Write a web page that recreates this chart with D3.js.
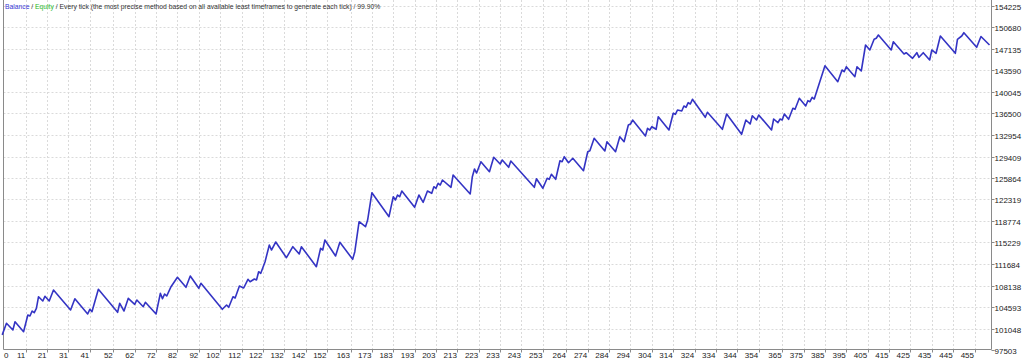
<!DOCTYPE html>
<html><head><meta charset="utf-8">
<script src="https://cdn.jsdelivr.net/npm/d3@7"></script>
<style>html,body{margin:0;padding:0;background:#fff;overflow:hidden}</style>
</head><body>
<svg id="c" width="1024" height="359"></svg>
<script>
// Trade index of each vertex of the balance curve
const trades = [0,2,5,6,10,12,13,14,15,16,17,19,20,22,24,32,34,40,41,42,45,54,55,57,59,62,63,66,67,72,74,75,76,77,79,82,86,88,92,93,
103,105,106,108,109,111,113,115,116,118,119,120,121,123,125,126,128,133,136,139,140,147,149,150,151,156,158,164,165,166,167,170,171,173,
181,183,184,185,186,187,193,195,197,199,201,202,203,204,205,206,210,211,219,220,221,222,224,228,230,233,234,237,238,
249,250,253,255,256,257,259,261,262,263,265,267,272,274,275,277,282,283,287,289,291,293,294,295,301,302,303,304,306,307,312,314,315,316,318,319,320,321,322,323,
329,330,337,339,346,348,350,351,353,354,360,361,363,364,365,366,368,370,371,373,376,377,378,379,380,385,391,393,394,395,399,400,402,404,406,408,409,410,
416,417,422,423,426,428,429,431,434,435,436,437,439,446,447,449,450,456,458,462];
// Balance at each vertex
const balance = [100000,101905,100800,102169,100520,103274,103109,103933,103653,104379,106291,105582,106357,105582,107396,104098,105961,103439,104214,103818,107511,103719,105203,103933,106027,105038,105747,104642,105368,103439,106852,105961,106737,106407,107940,109490,107841,109704,107676,108500,
104214,104923,104543,106291,106077,108055,107726,109160,108764,109210,109045,110414,110150,112062,114816,113991,115311,112722,114536,113332,114536,111238,114272,113991,115640,113002,115261,112458,113711,116184,118658,117833,118938,123440,
119482,122780,122236,123060,122780,123720,121034,123060,121857,123720,123342,124429,124166,124990,124709,125534,124330,126358,123225,126078,127348,126688,128551,126902,129277,128172,128832,127628,128667,
124330,125748,124166,125814,125649,126474,125649,128716,128551,129376,128386,129112,127067,130200,130365,132409,130316,131849,130200,132674,131849,134603,134768,135427,132789,134059,133778,134323,133894,135971,133778,136532,136367,137076,136911,137736,137521,138280,138065,138840,
135873,136697,133894,136417,133069,135427,134768,136136,135427,136252,133778,135592,134982,135592,135427,136417,135543,137356,137191,139005,137736,138610,138445,139170,138890,144381,141743,143672,143391,144216,142567,144216,143507,147794,146970,148734,148899,149443,
146970,148338,146310,146524,145601,146524,145766,146524,145321,146970,146689,146425,149278,146425,148734,149278,149822,147415,149196,147794];

const yTickLabels = [154225,150680,147135,143590,140045,136500,132954,129409,125864,122319,118774,115229,111684,108138,104593,101048,97503];
const xTickLabels = [0,11,21,31,41,52,62,72,82,92,102,112,122,132,142,152,163,173,183,193,203,213,223,233,243,253,264,274,284,294,304,314,324,334,344,354,365,375,385,395,405,415,425,435,445,455];
const legendParts = [
  {t:"Balance", c:"#3a3ad6"},
  {t:"\u00a0/\u00a0", c:"#333333"},
  {t:"Equity", c:"#2dbb2d"},
  {t:"\u00a0/ Every tick (the most precise method based on all available least timeframes to generate each tick) / 99.90%", c:"#333333"}
];

(function(){
const svg = d3.select("#c");
const pL = 3.5, pR = 991, pT = 0, pB = 349.5;
const x = d3.scaleLinear().domain([0, 462.7]).range([2.2, 991]);
const y = d3.scaleLinear().domain([97503, 154225]).range([350, 6]);
const font = "'Liberation Sans', Arial, sans-serif";

svg.append("rect").attr("width",1024).attr("height",359).attr("fill","#fff");

// horizontal grid
svg.append("g").selectAll("line").data(yTickLabels.slice(0,-1)).join("line")
  .attr("x1", pL).attr("x2", pR)
  .attr("y1", d => Math.round(y(d)) + 0.5).attr("y2", d => Math.round(y(d)) + 0.5)
  .attr("stroke", "#dadada").attr("stroke-dasharray", "2,2");
// vertical grid
svg.append("g").selectAll("line").data(xTickLabels.slice(1)).join("line")
  .attr("x1", d => Math.round(x(d)) + 0.5).attr("x2", d => Math.round(x(d)) + 0.5)
  .attr("y1", pT).attr("y2", pB)
  .attr("stroke", "#dadada").attr("stroke-dasharray", "2,2");

// borders
const bc = "#8a8a8a";
svg.append("line").attr("x1",pL).attr("x2",pL).attr("y1",0).attr("y2",pB).attr("stroke",bc);
svg.append("line").attr("x1",pR+0.5).attr("x2",pR+0.5).attr("y1",0).attr("y2",pB).attr("stroke",bc);
svg.append("line").attr("x1",pL).attr("x2",pR+0.5).attr("y1",pB).attr("y2",pB).attr("stroke",bc);

// x ticks and labels
svg.append("g").selectAll("line").data(xTickLabels.slice(1)).join("line")
  .attr("x1", d => Math.round(x(d)) + 0.5).attr("x2", d => Math.round(x(d)) + 0.5)
  .attr("y1", pB).attr("y2", pB + 3).attr("stroke", bc);
svg.append("g").selectAll("text").data(xTickLabels).join("text")
  .attr("x", d => d === 0 ? 4 : x(d) - 0.5)
  .attr("y", 358)
  .attr("text-anchor", d => d === 0 ? "start" : "end")
  .attr("font-family", font).attr("font-size", "8px").attr("fill", "#222")
  .text(d => d);

// y ticks and labels
svg.append("g").selectAll("line").data(yTickLabels).join("line")
  .attr("x1", pR + 0.5).attr("x2", pR + 3.5)
  .attr("y1", d => Math.round(y(d)) + 0.5).attr("y2", d => Math.round(y(d)) + 0.5)
  .attr("stroke", bc);
svg.append("g").selectAll("text").data(yTickLabels).join("text")
  .attr("x", 994.5)
  .attr("y", d => y(d) + 4)
  .attr("font-family", font).attr("font-size", "8px").attr("fill", "#222")
  .text(d => d);

// balance line
const pts = trades.map((t, i) => [t, balance[i]]);
svg.append("path").datum(pts)
  .attr("d", d3.line().x(d => x(d[0])).y(d => y(d[1])))
  .attr("fill", "none").attr("stroke", "#3434c4").attr("stroke-width", 1.6)
  .attr("stroke-linejoin", "round");

// legend: separate texts placed one after another, then fitted to width
const lg = svg.append("g");
let cx = 0;
legendParts.forEach(p => {
  const t = lg.append("text").attr("x", cx).attr("y", 0)
    .attr("font-family", font).attr("font-size", "8px").attr("fill", p.c).text(p.t);
  cx += t.node().getComputedTextLength();
});
const s = Math.min(1, 376 / cx);
lg.attr("transform", `translate(5,9) scale(${s},1)`);
})();
</script>
</body></html>
